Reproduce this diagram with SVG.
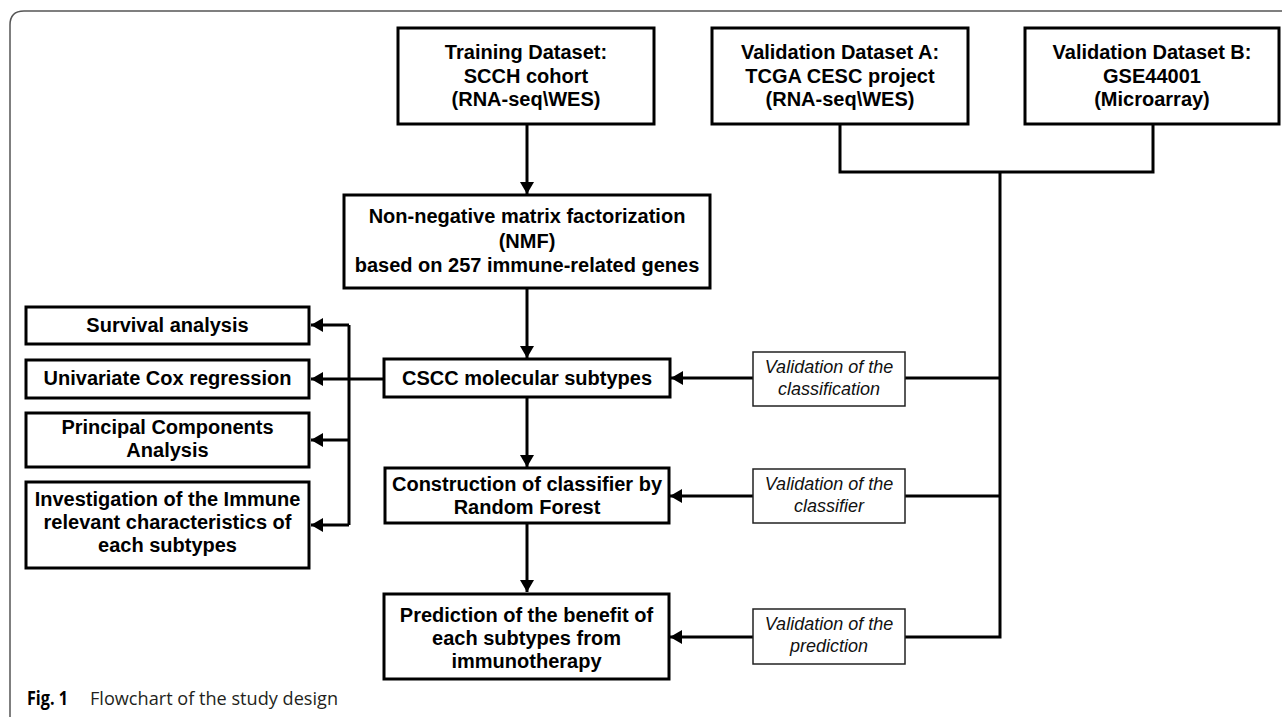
<svg xmlns="http://www.w3.org/2000/svg" width="1282" height="717" viewBox="0 0 1282 717">
<defs>
<style>
.box{fill:#fff;stroke:#000;stroke-width:3}
.lbl{fill:#fff;stroke:#222;stroke-width:1.5}
.t{font-family:"Liberation Sans",Arial,sans-serif;font-weight:bold;font-size:20px;fill:#000;text-anchor:middle}
.i{font-family:"Liberation Sans",Arial,sans-serif;font-style:italic;font-size:18px;fill:#111;text-anchor:middle}
.ln{fill:none;stroke:#000;stroke-width:3}
</style>
<marker id="ah" markerUnits="userSpaceOnUse" markerWidth="13" markerHeight="14" refX="12" refY="7" orient="auto">
<path d="M0,0 L12,7 L0,14 z" fill="#000"/>
</marker>
</defs>
<rect width="1282" height="717" fill="#fff"/>
<path d="M1282,11 H24 Q10,11 10,25 V717" fill="none" stroke="#555" stroke-width="1.5"/>

<g id="connectors">
<path class="ln" d="M527,124 V194" marker-end="url(#ah)"/>
<path class="ln" d="M527,288 V358" marker-end="url(#ah)"/>
<path class="ln" d="M527,397 V467" marker-end="url(#ah)"/>
<path class="ln" d="M527,523 V592" marker-end="url(#ah)"/>
<path class="ln" d="M840,124 V172 H1153 V124"/>
<path class="ln" d="M1000,172 V637 H905"/>
<path class="ln" d="M1000,378 H905"/>
<path class="ln" d="M1000,496 H905"/>
<path class="ln" d="M753,378 H671" marker-end="url(#ah)"/>
<path class="ln" d="M753,496 H670" marker-end="url(#ah)"/>
<path class="ln" d="M753,637 H670" marker-end="url(#ah)"/>
<path class="ln" stroke-width="4" d="M384,379 H349"/>
<path class="ln" d="M349,325 V525"/>
<path class="ln" d="M349,325 H311" marker-end="url(#ah)"/>
<path class="ln" d="M349,379 H311" marker-end="url(#ah)"/>
<path class="ln" d="M349,440 H311" marker-end="url(#ah)"/>
<path class="ln" d="M349,525 H311" marker-end="url(#ah)"/>
</g>

<g id="training">
<rect class="box" x="398" y="28" width="256" height="96"/>
<text class="t" x="526" y="59">Training Dataset:<tspan x="526" y="82.5">SCCH cohort</tspan><tspan x="526" y="106">(RNA-seq\WES)</tspan></text>
</g>
<g id="validationA">
<rect class="box" x="712" y="28" width="256" height="96"/>
<text class="t" x="840" y="59">Validation Dataset A:<tspan x="840" y="82.5">TCGA CESC project</tspan><tspan x="840" y="106">(RNA-seq\WES)</tspan></text>
</g>
<g id="validationB">
<rect class="box" x="1025" y="28" width="254" height="96"/>
<text class="t" x="1152" y="59">Validation Dataset B:<tspan x="1152" y="82.5">GSE44001</tspan><tspan x="1152" y="106">(Microarray)</tspan></text>
</g>
<g id="nmf">
<rect class="box" x="344" y="195" width="366" height="93"/>
<text class="t" x="527" y="223">Non-negative matrix factorization<tspan x="527" y="247.5">(NMF)</tspan><tspan x="527" y="272">based on 257 immune-related genes</tspan></text>
</g>
<g id="cscc">
<rect class="box" x="384" y="359" width="286" height="38"/>
<text class="t" x="527" y="385">CSCC molecular subtypes</text>
</g>
<g id="construction">
<rect class="box" x="385" y="468" width="284" height="55"/>
<text class="t" x="527" y="491">Construction of classifier by<tspan x="527" y="514">Random Forest</tspan></text>
</g>
<g id="prediction">
<rect class="box" x="384" y="594" width="285" height="85"/>
<text class="t" x="526.5" y="622">Prediction of the benefit of<tspan x="526.5" y="645">each subtypes from</tspan><tspan x="526.5" y="668">immunotherapy</tspan></text>
</g>
<g id="survival">
<rect class="box" x="26" y="307" width="283" height="37"/>
<text class="t" x="167.5" y="332">Survival analysis</text>
</g>
<g id="univariate">
<rect class="box" x="26" y="360" width="283" height="38"/>
<text class="t" x="167.5" y="385">Univariate Cox regression</text>
</g>
<g id="pca">
<rect class="box" x="26" y="413" width="283" height="54"/>
<text class="t" x="167.5" y="434">Principal Components<tspan x="167.5" y="457">Analysis</tspan></text>
</g>
<g id="investigation">
<rect class="box" x="26" y="482" width="283" height="86"/>
<text class="t" x="167.5" y="506">Investigation of the Immune<tspan x="167.5" y="529">relevant characteristics of</tspan><tspan x="167.5" y="552">each subtypes</tspan></text>
</g>
<g id="val-classification">
<rect class="lbl" x="753" y="352" width="152" height="54"/>
<text class="i" x="829" y="373">Validation of the<tspan x="829" y="395">classification</tspan></text>
</g>
<g id="val-classifier">
<rect class="lbl" x="753" y="469" width="152" height="54"/>
<text class="i" x="829" y="490">Validation of the<tspan x="829" y="512">classifier</tspan></text>
</g>
<g id="val-prediction">
<rect class="lbl" x="753" y="609" width="152" height="55"/>
<text class="i" x="829" y="630">Validation of the<tspan x="829" y="652">prediction</tspan></text>
</g>
<g id="caption">
<text x="27" y="705" font-family="'Open Sans','Noto Sans',sans-serif" font-size="19" font-weight="bold" fill="#000" textLength="41" lengthAdjust="spacingAndGlyphs">Fig. 1</text>
<text x="90" y="705" font-family="'Open Sans','Noto Sans',sans-serif" font-size="19" fill="#231f20" textLength="248" lengthAdjust="spacingAndGlyphs">Flowchart of the study design</text>
</g>
</svg>
